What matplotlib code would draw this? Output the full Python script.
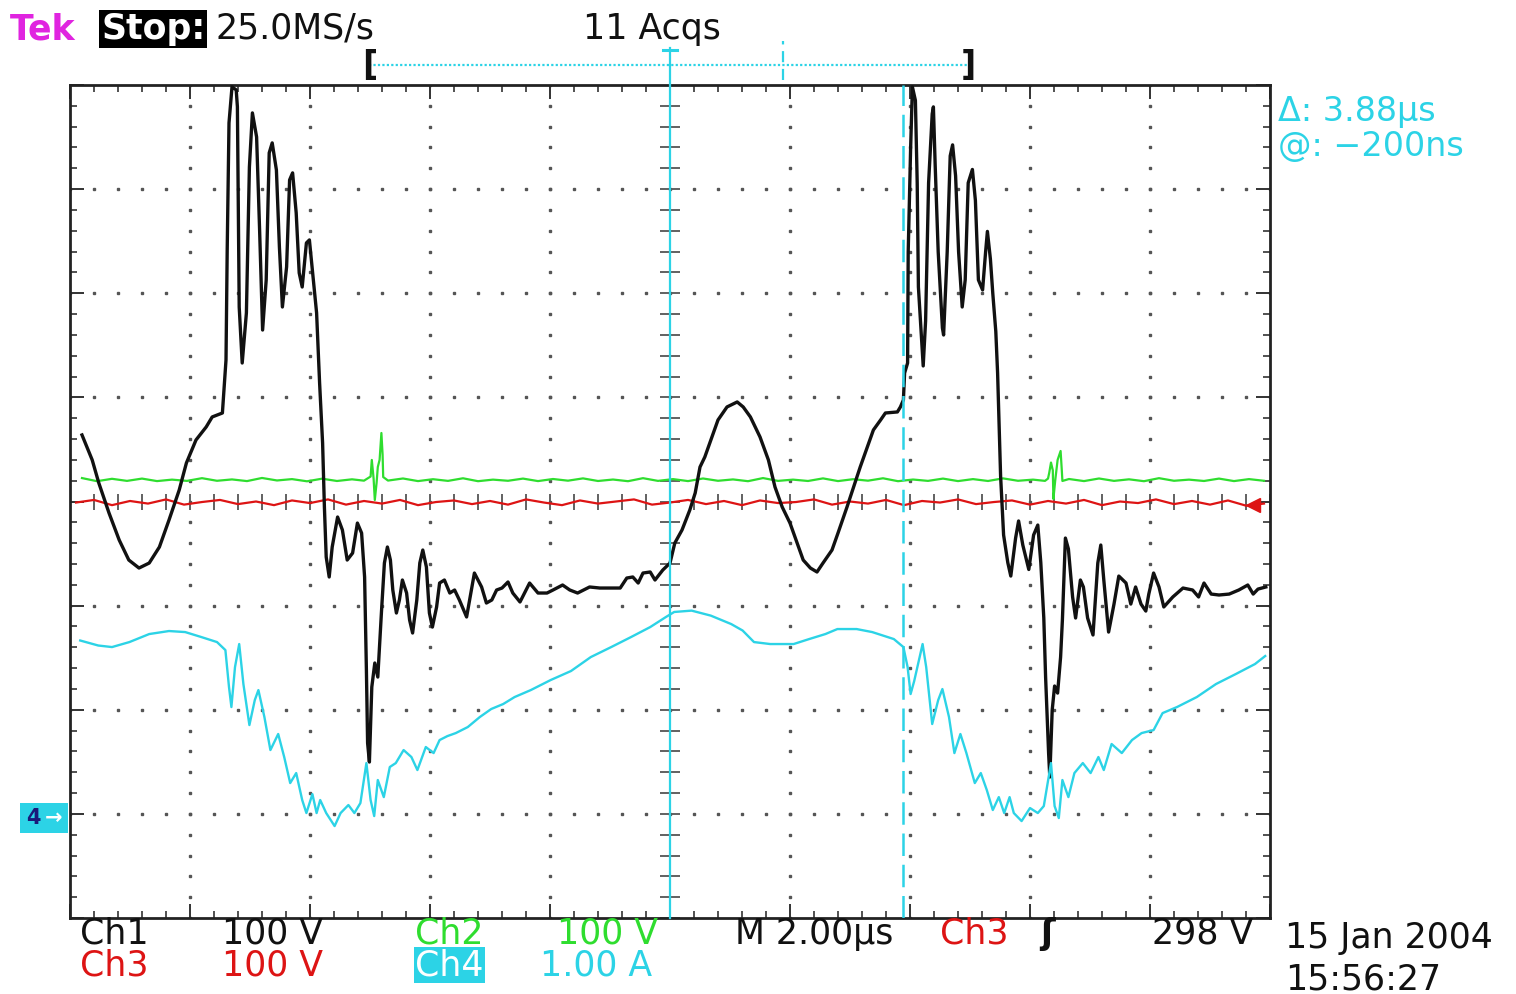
import numpy as np
import matplotlib
matplotlib.use("Agg")
import matplotlib.pyplot as plt
from matplotlib.patches import Rectangle

# ---------------- data ----------------
# time in microseconds relative to the trigger (screen centre), 2 us/div
ch1_t = [-9.80, -9.63, -9.52, -9.35, -9.18, -9.02, -8.85, -8.68, -8.51, -8.35,
         -8.18, -8.06, -7.90, -7.73, -7.63, -7.46, -7.40, -7.38, -7.35, -7.30,
         -7.23, -7.21, -7.18, -7.13, -7.06, -7.01, -6.96, -6.89, -6.84, -6.79,
         -6.73, -6.68, -6.63, -6.56, -6.51, -6.46, -6.39, -6.34, -6.29, -6.23,
         -6.18, -6.13, -6.06, -6.01, -5.96, -5.89, -5.84, -5.79, -5.76, -5.73,
         -5.68, -5.63, -5.54, -5.46, -5.38, -5.29, -5.21, -5.14, -5.09, -5.06,
         -5.04, -5.01, -4.97, -4.92, -4.87, -4.81, -4.76, -4.71, -4.66, -4.62,
         -4.56, -4.51, -4.46, -4.39, -4.34, -4.29, -4.22, -4.17, -4.12, -4.06,
         -4.01, -3.96, -3.89, -3.84, -3.76, -3.67, -3.59, -3.51, -3.39, -3.26,
         -3.14, -3.06, -2.97, -2.89, -2.80, -2.70, -2.62, -2.50, -2.34, -2.20,
         -2.05, -1.95, -1.79, -1.67, -1.54, -1.34, -1.17, -0.83, -0.72, -0.62,
         -0.53, -0.45, -0.33, -0.25, -0.12, 0.00, 0.08, 0.20, 0.33, 0.42,
         0.50, 0.58, 0.70, 0.80, 0.95, 1.12, 1.22, 1.34, 1.50, 1.64,
         1.75, 1.87, 2.00, 2.12, 2.22, 2.34, 2.45, 2.55, 2.70, 2.80,
         2.95, 3.06, 3.17, 3.29, 3.39, 3.51, 3.59, 3.79, 3.84, 3.89,
         3.91, 3.96, 3.97, 4.01, 4.04, 4.09, 4.12, 4.14, 4.21, 4.22,
         4.26, 4.31, 4.37, 4.39, 4.42, 4.47, 4.54, 4.56, 4.62, 4.67,
         4.71, 4.76, 4.81, 4.87, 4.92, 4.97, 5.04, 5.09, 5.14, 5.21,
         5.26, 5.29, 5.34, 5.38, 5.43, 5.46, 5.48, 5.51, 5.54, 5.56,
         5.63, 5.68, 5.76, 5.81, 5.88, 5.98, 6.06, 6.13, 6.18, 6.23,
         6.26, 6.31, 6.33, 6.37, 6.41, 6.46, 6.51, 6.54, 6.59, 6.64,
         6.71, 6.76, 6.84, 6.89, 6.96, 7.05, 7.13, 7.18, 7.23, 7.31,
         7.40, 7.48, 7.60, 7.68, 7.76, 7.85, 7.93, 7.98, 8.06, 8.15,
         8.23, 8.38, 8.55, 8.71, 8.81, 8.90, 9.02, 9.15, 9.32, 9.48,
         9.63, 9.72, 9.80, 9.93]
# Ch1 volts (100 V/div)
ch1_v = [63.9, 39.9, 17.8, -11.0, -37.0, -56.2, -63.9, -59.1, -43.7, -17.8,
         11.0, 37.0, 59.1, 71.6, 81.2, 85.0, 135.9, 241.6, 363.6, 398.2,
         395.3, 379.0, 186.8, 133.0, 181.1, 321.3, 373.2, 350.1, 260.8, 164.7,
         212.8, 334.8, 344.4, 318.4, 244.5, 186.8, 225.3, 308.8, 315.6, 277.1,
         219.5, 206.0, 248.3, 251.2, 222.4, 181.1, 113.8, 56.2, -5.3, -53.3,
         -72.5, -43.7, -14.9, -27.4, -56.2, -49.5, -20.7, -30.3, -72.5, -161.9,
         -232.0, -250.2, -178.2, -155.1, -168.6, -107.1, -59.1, -43.7, -56.2, -85.0,
         -107.1, -94.6, -75.4, -87.9, -113.8, -126.3, -94.6, -59.1, -46.6, -62.9,
         -107.1, -120.6, -101.3, -78.3, -75.4, -87.9, -85.0, -94.6, -110.9, -68.7,
         -82.1, -97.5, -94.6, -85.0, -83.1, -77.3, -87.9, -96.5, -78.3, -87.9,
         -87.9, -85.0, -80.2, -85.0, -87.9, -82.1, -83.1, -83.1, -73.5, -72.5,
         -78.3, -68.7, -67.7, -75.4, -65.8, -59.1, -39.9, -27.4, -8.2, 8.2,
         33.1, 42.7, 62.0, 78.3, 90.8, 95.6, 90.8, 81.2, 62.0, 39.9,
         13.9, -5.3, -20.7, -39.9, -56.2, -63.9, -67.7, -59.1, -46.6, -30.3,
         -5.3, 13.9, 33.1, 52.4, 68.7, 78.3, 85.0, 86.0, 90.8, 97.5,
         123.4, 133.0, 239.7, 338.6, 398.2, 385.2, 306.0, 206.0, 139.8, 130.2,
         173.4, 306.0, 372.2, 379.0, 322.3, 239.7, 166.7, 159.9, 239.7, 331.9,
         342.5, 312.7, 239.7, 186.8, 212.8, 306.0, 318.9, 289.1, 212.8, 203.2,
         239.7, 259.4, 232.9, 199.7, 163.3, 123.4, 84.1, 24.5, -9.1, -32.2,
         -58.7, -71.6, -35.1, -18.7, -41.8, -65.3, -32.2, -22.6, -58.7, -111.9,
         -168.6, -241.6, -264.6, -200.3, -177.2, -184.0, -149.4, -113.8, -35.1, -45.6,
         -91.7, -111.9, -75.4, -82.1, -111.9, -128.2, -59.1, -41.8, -75.4, -125.4,
         -98.5, -71.6, -78.3, -98.5, -82.1, -98.5, -105.2, -88.9, -68.7, -82.1,
         -101.3, -91.7, -83.1, -85.0, -91.7, -78.3, -88.9, -89.8, -88.9, -85.0,
         -80.2, -88.9, -84.1, -82.1]

# Ch2 volts (100 V/div)
ch2_t = [-9.80, -9.55, -9.30, -9.05, -8.80, -8.55, -8.30, -8.05, -7.80, -7.55,
         -7.30, -7.05, -6.80, -6.55, -6.30, -6.05, -5.80, -5.55, -5.30, -5.10,
         -4.99, -4.97, -4.94, -4.92, -4.89, -4.87, -4.84, -4.81, -4.79, -4.78,
         -4.70, -4.45, -4.20, -3.95, -3.70, -3.45, -3.20, -2.95, -2.70, -2.45,
         -2.20, -1.95, -1.70, -1.45, -1.20, -0.95, -0.70, -0.45, -0.20, 0.05,
         0.30, 0.55, 0.80, 1.05, 1.30, 1.55, 1.80, 2.05, 2.30, 2.55,
         2.80, 3.05, 3.30, 3.55, 3.80, 4.05, 4.30, 4.55, 4.80, 5.05,
         5.30, 5.55, 5.80, 6.05, 6.25, 6.30, 6.32, 6.35, 6.38, 6.39,
         6.42, 6.46, 6.51, 6.53, 6.54, 6.65, 6.90, 7.15, 7.40, 7.65,
         7.90, 8.15, 8.40, 8.65, 8.90, 9.15, 9.40, 9.65, 9.90]
ch2_v = [22.5, 19.5, 21.8, 19.8, 22.0, 19.6, 21.0, 19.8, 22.4, 19.9,
         21.2, 19.6, 22.6, 20.2, 21.5, 19.4, 21.9, 19.7, 21.3, 20.0,
         24.0, 39.9, 22.0, 1.4, 18.0, 33.1, 40.0, 65.8, 45.0, 23.5,
         20.1, 22.1, 19.6, 21.4, 19.8, 22.3, 19.5, 21.0, 19.9, 22.0,
         19.6, 21.6, 20.0, 22.2, 19.7, 21.1, 19.5, 22.4, 19.8, 21.5,
         19.6, 22.1, 19.9, 21.2, 19.5, 22.5, 19.8, 21.0, 19.7, 22.2,
         19.6, 21.4, 20.0, 22.3, 19.5, 21.1, 19.8, 22.0, 19.6, 21.5,
         19.7, 22.2, 19.9, 21.0, 19.8, 22.0, 27.4, 37.4, 30.0, 2.4,
         20.0, 39.9, 48.5, 30.0, 19.7, 21.6, 19.6, 22.1, 19.8, 21.3,
         19.5, 22.4, 19.9, 21.0, 19.7, 22.0, 19.6, 21.5, 19.9]

# Ch3 volts (100 V/div)
ch3_t = [-9.90, -9.60, -9.30, -9.00, -8.70, -8.40, -8.10, -7.80, -7.50, -7.20,
         -6.90, -6.60, -6.30, -6.00, -5.70, -5.40, -5.10, -4.80, -4.50, -4.20,
         -3.90, -3.60, -3.30, -3.00, -2.70, -2.40, -2.10, -1.80, -1.50, -1.20,
         -0.90, -0.60, -0.30, 0.00, 0.30, 0.60, 0.90, 1.20, 1.50, 1.80,
         2.10, 2.40, 2.70, 3.00, 3.30, 3.60, 3.90, 4.20, 4.50, 4.80,
         5.10, 5.40, 5.70, 6.00, 6.30, 6.60, 6.90, 7.20, 7.50, 7.80,
         8.10, 8.40, 8.70, 9.00, 9.30, 9.60, 9.90]
ch3_v = [-1.0, 1.5, -3.5, 0.5, -2.0, 2.0, -3.0, -0.5, 1.5, -2.5,
         0.0, -3.5, 1.0, -1.5, 2.0, -3.0, 0.5, -2.0, 1.5, -3.5,
         -0.5, 1.0, -2.5, 0.5, -3.0, 2.0, -1.0, -3.5, 1.0, -2.0,
         0.0, 2.0, -3.0, -1.0, 1.5, -2.5, 0.5, -3.5, 1.0, -1.5,
         -0.5, 2.0, -3.0, 0.0, -2.0, 1.5, -3.5, 0.5, -1.0, 2.0,
         -2.5, -0.5, 1.0, -3.0, 0.5, -2.0, 1.5, -3.5, 0.0, -1.5,
         2.0, -2.5, 0.5, -3.0, 1.0, -4.0, -2.0]

# Ch4 amps (1.00 A/div), relative to its reference marker
ch4_t = [-9.83, -9.53, -9.30, -9.01, -8.68, -8.35, -8.08, -7.81, -7.55, -7.41,
         -7.35, -7.31, -7.25, -7.18, -7.11, -7.01, -6.92, -6.86, -6.76, -6.66,
         -6.53, -6.43, -6.33, -6.23, -6.13, -6.06, -5.96, -5.89, -5.83, -5.73,
         -5.59, -5.49, -5.36, -5.26, -5.16, -5.06, -4.99, -4.93, -4.87, -4.77,
         -4.67, -4.57, -4.44, -4.31, -4.21, -4.07, -3.94, -3.84, -3.71, -3.57,
         -3.37, -3.17, -2.98, -2.78, -2.59, -2.32, -1.99, -1.65, -1.32, -0.98,
         -0.65, -0.33, -0.07, 0.07, 0.36, 0.68, 1.02, 1.21, 1.40, 1.67,
         2.06, 2.32, 2.59, 2.79, 3.11, 3.37, 3.73, 3.89, 3.96, 4.01,
         4.07, 4.21, 4.27, 4.37, 4.47, 4.54, 4.65, 4.74, 4.84, 4.94,
         5.08, 5.18, 5.28, 5.38, 5.48, 5.57, 5.66, 5.73, 5.86, 6.00,
         6.13, 6.23, 6.35, 6.41, 6.48, 6.54, 6.64, 6.74, 6.88, 7.01,
         7.14, 7.23, 7.36, 7.53, 7.70, 7.86, 8.06, 8.21, 8.45, 8.78,
         9.10, 9.43, 9.75, 9.92]
ch4_a = [1.665, 1.617, 1.602, 1.650, 1.727, 1.756, 1.746, 1.698, 1.650, 1.573,
         1.218, 1.026, 1.410, 1.631, 1.247, 0.853, 1.093, 1.189, 0.930, 0.613,
         0.767, 0.546, 0.296, 0.392, 0.133, 0.008, 0.190, 0.008, 0.133, 0.008,
         -0.117, 0.008, 0.085, 0.008, 0.104, 0.488, 0.133, -0.021, 0.325, 0.161,
         0.450, 0.488, 0.613, 0.546, 0.421, 0.642, 0.584, 0.709, 0.747, 0.776,
         0.834, 0.930, 1.007, 1.055, 1.122, 1.189, 1.285, 1.372, 1.506, 1.602,
         1.698, 1.794, 1.890, 1.939, 1.952, 1.904, 1.823, 1.761, 1.650, 1.631,
         1.631, 1.679, 1.727, 1.775, 1.775, 1.746, 1.679, 1.602, 1.410, 1.151,
         1.276, 1.631, 1.410, 0.863, 1.093, 1.199, 0.930, 0.584, 0.767, 0.584,
         0.296, 0.392, 0.229, 0.037, 0.161, 0.008, 0.161, 0.008, -0.069, 0.056,
         0.008, 0.075, 0.488, 0.075, -0.040, 0.325, 0.161, 0.392, 0.488, 0.392,
         0.546, 0.421, 0.671, 0.584, 0.709, 0.776, 0.805, 0.968, 1.026, 1.122,
         1.247, 1.343, 1.439, 1.516]

ch_scales = {"Ch1": 100.0, "Ch2": 100.0, "Ch3": 100.0, "Ch4": 1.0}
ch4_ref_div = -3.0
cursor_times = [0.0, 3.88]
record_window = [-5.01, 4.97]
record_marker_t = 1.89
trigger_level_div = -0.03

header_texts = ["Tek", "Stop:", "25.0MS/s", "11 Acqs"]
cursor_texts = ["\u0394: 3.88\u00b5s", "@: \u2212200ns"]
row1_texts = ["Ch1", "100 V", "Ch2", "100 V", "M 2.00\u00b5s", "Ch3", "\u0283", "298 V"]
row2_texts = ["Ch3", "100 V", "Ch4", "1.00 A"]
date_texts = ["15 Jan 2004", "15:56:27"]

# ---------------- style ----------------
BLACK = "#111111"
GREEN = "#2FDD2F"
RED = "#DD1414"
CYAN = "#2CD3E6"
MAGENTA = "#E024E0"
GRIDC = "#555555"

W, H = 1516, 994
fig = plt.figure(figsize=(W / 100, H / 100), dpi=100)
fig.patch.set_facecolor("white")


def fp(px, py):
    return px / W, 1 - py / H


ax = fig.add_axes([70 / W, 1 - 918 / H, 1200 / W, 833 / H])
ax.set_xlim(-10, 10)
ax.set_ylim(-4, 4)
ax.set_xticks(np.arange(-10, 10.01, 2))
ax.set_yticks(np.arange(-4, 4.01, 1))
ax.set_xticks(np.arange(-10, 10.01, 0.4), minor=True)
ax.set_yticks(np.arange(-4, 4.01, 0.2), minor=True)
ax.tick_params(which="both", direction="in", top=True, right=True,
               labelbottom=False, labelleft=False, color="#333333")
ax.tick_params(which="major", length=10, width=1.4)
ax.tick_params(which="minor", length=5, width=1.2)
for s in ax.spines.values():
    s.set_linewidth(2.0)
    s.set_color("#222222")

# dotted graticule
xd = np.arange(-10, 10.001, 0.4)
yd = np.arange(-4, 4.001, 0.2)
for gy in [-3, -2, -1, 1, 2, 3]:
    ax.plot(xd, np.full_like(xd, gy), ls="none", marker="s", ms=2.0,
            color=GRIDC, zorder=1)
for gx in [-8, -6, -4, -2, 2, 4, 6, 8]:
    ax.plot(np.full_like(yd, gx), yd, ls="none", marker="s", ms=2.0,
            color=GRIDC, zorder=1)
# centre crosshair ticks
ax.plot(np.zeros_like(yd), yd, ls="none", marker="_", ms=14, mew=1.3,
        color=GRIDC, zorder=1)
ax.plot(xd, np.zeros_like(xd), ls="none", marker="|", ms=12, mew=1.3,
        color=GRIDC, zorder=1)

# traces
ax.plot(ch2_t, np.array(ch2_v) / ch_scales["Ch2"], color=GREEN, lw=1.6, zorder=3)
ax.plot(ch3_t, np.array(ch3_v) / ch_scales["Ch3"], color=RED, lw=1.6, zorder=3)
ax.plot(ch1_t, np.array(ch1_v) / ch_scales["Ch1"], color=BLACK, lw=2.4, zorder=4)
ax.plot(ch4_t, np.array(ch4_a) / ch_scales["Ch4"] + ch4_ref_div, color=CYAN,
        lw=1.7, zorder=5)

# trigger level marker
ax.plot([9.72], [trigger_level_div], marker="<", ms=10, color=RED,
        clip_on=False, zorder=6)

# cursors
ax.plot([cursor_times[0]] * 2, [-4, 4.36], color=CYAN, lw=1.6, clip_on=False,
        zorder=6)
ax.plot([cursor_times[1]] * 2, [-4, 4], color=CYAN, lw=1.8,
        ls=(0, (9, 3.5)), zorder=6)

# record view bar above the graticule
bar_y = 4.19
ax.plot(record_window, [bar_y, bar_y], color=CYAN, lw=1.6, ls=(0, (1, 1)),
        clip_on=False)
ax.text(record_window[0], bar_y, "[", ha="center", va="center", fontsize=24,
        fontweight="bold", color=BLACK, clip_on=False)
ax.text(record_window[1], bar_y, "]", ha="center", va="center", fontsize=24,
        fontweight="bold", color=BLACK, clip_on=False)
ax.plot([-0.12, 0.12], [4.34, 4.34], color=CYAN, lw=2.2, clip_on=False)
ax.plot([record_marker_t] * 2, [4.05, 4.42], color=CYAN, lw=1.6,
        ls=(0, (5, 3)), clip_on=False)

# ---------------- text ----------------
FS = 25
x, y = fp(10, 39)
fig.text(x, y, header_texts[0], color=MAGENTA, fontsize=FS, va="baseline",
         fontweight="bold")
x, y = fp(101, 39)
fig.text(x, y, header_texts[1], color="white", fontsize=FS, va="baseline",
         fontweight="bold",
         bbox=dict(facecolor="black", edgecolor="none", pad=1.5))
x, y = fp(215, 39)
fig.text(x, y, header_texts[2], color=BLACK, fontsize=FS, va="baseline")
x, y = fp(583, 39)
fig.text(x, y, header_texts[3], color=BLACK, fontsize=FS, va="baseline")

x, y = fp(1278, 121)
fig.text(x, y, cursor_texts[0], color=CYAN, fontsize=24, va="baseline")
x, y = fp(1278, 156)
fig.text(x, y, cursor_texts[1], color=CYAN, fontsize=24, va="baseline")

row1_pos = [80, 222, 415, 557, 735, 940, 1040, 1152]
row1_col = [BLACK, BLACK, GREEN, GREEN, BLACK, RED, BLACK, BLACK]
for s, px, c in zip(row1_texts, row1_pos, row1_col):
    x, y = fp(px, 944)
    kw = {}
    if s == "\u0283":
        kw["fontweight"] = "bold"
    fig.text(x, y, s, color=c, fontsize=FS, va="baseline", **kw)

row2_pos = [80, 222, 415, 540]
row2_col = [RED, RED, "white", CYAN]
for s, px, c in zip(row2_texts, row2_pos, row2_col):
    x, y = fp(px, 975)
    kw = {}
    if s == "Ch4":
        kw["bbox"] = dict(facecolor=CYAN, edgecolor="none", pad=1.0)
    fig.text(x, y, s, color=c, fontsize=FS, va="baseline", **kw)

x, y = fp(1285, 948)
fig.text(x, y, date_texts[0], color=BLACK, fontsize=FS, va="baseline")
x, y = fp(1285, 990)
fig.text(x, y, date_texts[1], color=BLACK, fontsize=FS, va="baseline")

# Ch4 reference marker at left edge
x0, y0 = fp(20, 833)
fig.patches.append(Rectangle((x0, y0), 48 / W, 30 / H, transform=fig.transFigure,
                             facecolor=CYAN, edgecolor="none"))
x, y = fp(33, 818)
fig.text(x, y, "4", color="#1A1A7A", fontsize=15, fontweight="bold",
         ha="center", va="center")
x, y = fp(54, 818)
fig.text(x, y, "\u2192", color="white", fontsize=15, fontweight="bold",
         ha="center", va="center")

fig.savefig("out.png", dpi=100, facecolor="white")
